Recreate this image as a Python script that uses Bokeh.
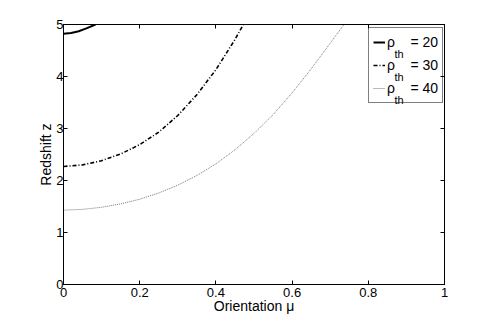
from bokeh.plotting import figure
from bokeh.models import Range1d, LinearAxis, FixedTicker, Legend, LegendItem, Label, CustomJSTickFormatter
from bokeh.embed import file_html
from bokeh.resources import INLINE

# ---- data ----
mu_20 = [0.0, 0.02, 0.04, 0.06, 0.084]
z_20 = [4.82, 4.835, 4.87, 4.925, 5.0]

mu_30 = [0.0, 0.05, 0.10, 0.15, 0.20, 0.25, 0.30, 0.35, 0.40, 0.45, 0.472]
z_30 = [2.27, 2.30, 2.38, 2.51, 2.69, 2.93, 3.25, 3.65, 4.13, 4.71, 5.0]

mu_40 = [0.0, 0.05, 0.10, 0.15, 0.20, 0.25, 0.30, 0.35, 0.40, 0.45, 0.50, 0.55, 0.60, 0.65, 0.70, 0.736]
z_40 = [1.43, 1.445, 1.485, 1.55, 1.64, 1.76, 1.91, 2.095, 2.32, 2.59, 2.905, 3.265, 3.685, 4.145, 4.64, 5.0]

x_ticks = [0, 0.2, 0.4, 0.6, 0.8, 1]
x_tick_labels = ["0", "0.2", "0.4", "0.6", "0.8", "1"]
y_ticks = [0, 1, 2, 3, 4, 5]
y_tick_labels = ["0", "1", "2", "3", "4", "5"]

legend_values = ["20", "30", "40"]

FONT = "Liberation Sans"

p = figure(width=491, height=320, output_backend="svg", toolbar_location=None,
           x_range=Range1d(0, 1), y_range=Range1d(0, 5),
           min_border_left=63, min_border_right=47, min_border_top=24, min_border_bottom=36,
           x_axis_label="Orientation μ", y_axis_label="Redshift z")
p.xgrid.visible = False
p.ygrid.visible = False
p.outline_line_color = "black"
p.background_fill_color = "white"
p.border_fill_color = "white"

def style_axis(ax, ticks, labels, show_labels=True):
    ax.ticker = FixedTicker(ticks=ticks)
    ax.major_tick_in = 4
    ax.major_tick_out = 0
    ax.minor_tick_in = 0
    ax.minor_tick_out = 0
    ax.axis_line_color = "black"
    ax.major_tick_line_color = "black"
    ax.major_label_text_font = FONT
    ax.major_label_text_font_size = "13px"
    ax.major_label_text_color = "black"
    ax.axis_label_text_font = FONT
    ax.axis_label_text_font_size = "14px"
    ax.axis_label_text_font_style = "normal"
    ax.axis_label_text_color = "black"
    if show_labels:
        ax.major_label_overrides = {t: l for t, l in zip(ticks, labels)}
    else:
        ax.formatter = CustomJSTickFormatter(code="return ''")
        ax.major_label_standoff = 0
        ax.axis_label = None

style_axis(p.xaxis[0], x_ticks, x_tick_labels)
style_axis(p.yaxis[0], y_ticks, y_tick_labels)
p.xaxis[0].major_label_standoff = 3
p.xaxis[0].axis_label_standoff = -2
p.yaxis[0].major_label_standoff = 0
p.yaxis[0].axis_label_standoff = -1

top = LinearAxis()
style_axis(top, x_ticks, x_tick_labels, show_labels=False)
p.add_layout(top, "above")
right = LinearAxis()
style_axis(right, y_ticks, y_tick_labels, show_labels=False)
p.add_layout(right, "right")

r20 = p.line(mu_20, z_20, line_color="black", line_width=2)
r30 = p.line(mu_30, z_30, line_color="black", line_width=1.6, line_dash="4 2 1 2")
r40 = p.line(mu_40, z_40, line_color="#777777", line_width=1, line_dash="1 1")

items = [LegendItem(label="ρ    = " + v, renderers=[r]) for v, r in zip(legend_values, [r20, r30, r40])]
legend = Legend(items=items, location=(305, 181))
legend.label_text_font = FONT
legend.label_text_font_size = "14px"
legend.label_text_color = "black"
legend.glyph_width = 12
legend.glyph_height = 20
legend.label_height = 20
legend.label_standoff = 2
legend.spacing = 3
legend.padding = 4
legend.margin = 0
legend.border_line_color = "black"
legend.border_line_width = 1
legend.background_fill_alpha = 0
p.add_layout(legend)

for i in range(len(legend_values)):
    p.add_layout(Label(x=1, y=5, x_offset=-50, y_offset=-29 - 23 * i, text="th",
                       text_font=FONT, text_font_size="11px", text_color="black",
                       text_baseline="alphabetic", text_align="left", level="overlay"))

open("out.html", "w").write(file_html(p, INLINE))
